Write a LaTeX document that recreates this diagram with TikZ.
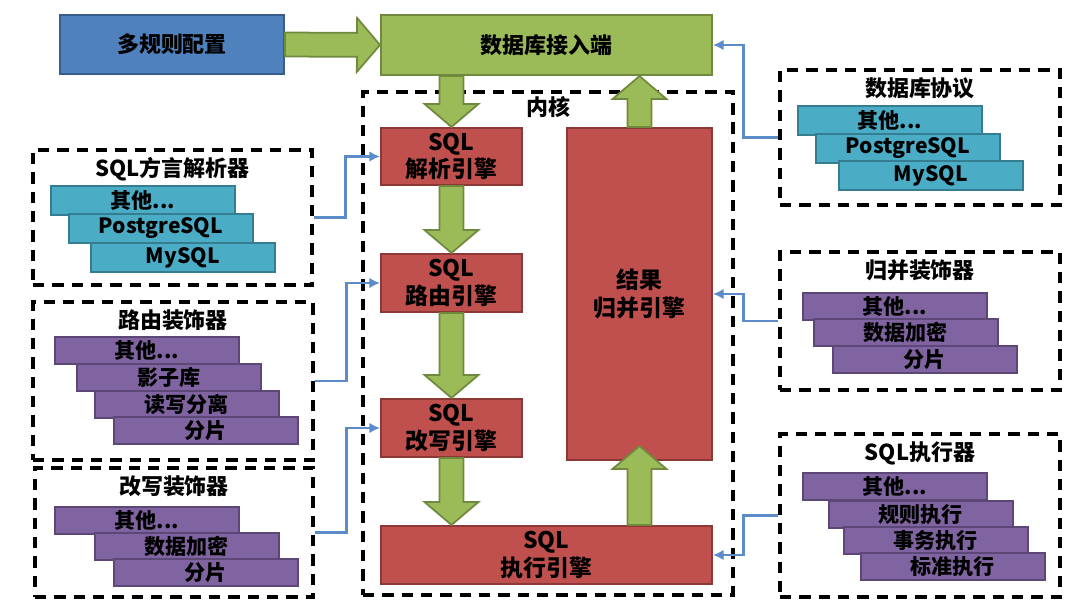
\documentclass[tikz,border=0pt]{standalone}
\usepackage{fontspec}
\setmainfont{Noto Sans CJK SC}
\usetikzlibrary{positioning,calc,arrows.meta}

\definecolor{bluefill}{HTML}{4F81BD}
\definecolor{blueline}{HTML}{385D8A}
\definecolor{greenfill}{HTML}{9BBB59}
\definecolor{greenline}{HTML}{71893F}
\definecolor{redfill}{HTML}{C0504D}
\definecolor{redline}{HTML}{8C3836}
\definecolor{tealfill}{HTML}{4BACC6}
\definecolor{tealline}{HTML}{357D91}
\definecolor{purplefill}{HTML}{8064A2}
\definecolor{purpleline}{HTML}{5C4776}
\definecolor{linkblue}{HTML}{5B8BC9}

\tikzset{
  box/.style={draw, line width=1.2pt, align=center, inner sep=0pt,
    font=\bfseries\fontsize{12.5}{15}\selectfont},
  bluebox/.style={box, fill=bluefill, draw=blueline},
  greenbox/.style={box, fill=greenfill, draw=greenline},
  redbox/.style={box, fill=redfill, draw=redline,
    font=\bfseries\fontsize{13}{15.5}\selectfont},
  group/.style={draw, dashed, line width=1.8pt, dash pattern=on 6.5pt off 4.5pt},
  title/.style={font=\bfseries\fontsize{12.5}{15}\selectfont, inner sep=2pt},
  layer/.style={box, line width=1pt, anchor=north west,
    minimum width=3.68cm, minimum height=0.54cm, font=\bfseries\fontsize{12}{14}\selectfont},
  tealayer/.style={layer, fill=tealfill, draw=tealline, minimum height=0.58cm},
  purplayer/.style={layer, fill=purplefill, draw=purpleline},
  fat/.style={fill=greenfill, draw=greenline, line width=1pt, line join=miter},
  link/.style={draw=linkblue, line width=1.3pt, -{Latex[length=6pt,width=6pt]}}
}

% thick green arrow from #1 to #2
\newcommand{\fatarrow}[2]{%
  \coordinate (fa-s) at (#1);
  \coordinate (fa-e) at (#2);
  \coordinate (fa-b) at ($(fa-e)!0.46cm!(fa-s)$);
  \draw[fat] ($(fa-s)!0.24cm!90:(fa-e)$) -- ($(fa-b)!0.24cm!90:(fa-e)$)
    -- ($(fa-b)!0.54cm!90:(fa-e)$) -- (fa-e) -- ($(fa-b)!0.54cm!-90:(fa-e)$)
    -- ($(fa-b)!0.24cm!-90:(fa-e)$) -- ($(fa-s)!0.24cm!-90:(fa-e)$) -- cycle;
}

\begin{document}
\begin{tikzpicture}[x=0.02cm, y=-0.02cm]
\useasboundingbox (0,0) rectangle (1080,612);

% top row
\node[bluebox, minimum width=4.48cm, minimum height=1.18cm] (rules) at (172,44.5) {多规则配置};
\node[greenbox, minimum width=6.62cm, minimum height=1.2cm] (access) at (546.5,45) {数据库接入端};

% kernel
\node[group, minimum width=7.4cm, minimum height=10.06cm] (kernel) at (548,343.5) {};
\node[title, below=1pt of kernel.north] (kerneltitle) {内核};
\node[redbox, minimum width=2.82cm, minimum height=1.14cm] (parse) at (451.5,156.5) {SQL\\解析引擎};
\node[redbox, minimum width=2.82cm, minimum height=1.16cm] (route) at (451.5,283) {SQL\\路由引擎};
\node[redbox, minimum width=2.82cm, minimum height=1.16cm] (rewrite) at (451.5,428) {SQL\\改写引擎};
\node[redbox, minimum width=6.62cm, minimum height=1.16cm] (exec) at (546.5,555) {SQL\\执行引擎};
\node[redbox, minimum width=2.9cm, minimum height=6.64cm] (merge) at (639.5,294) {结果\\归并引擎};

% left side
\node[group, minimum width=5.58cm, minimum height=2.7cm] (dialect) at (172.5,217.5) {};
\node[title, below=3pt of dialect.north] (dialecttitle) {SQL方言解析器};
\node[tealayer] (d1) at (50,185) {其他...};
\node[tealayer] (d2) at (68,213) {PostgreSQL};
\node[tealayer] (d3) at (90,242) {MySQL};

\node[group, minimum width=5.6cm, minimum height=3.16cm] (routedec) at (173,381) {};
\node[title, below=3pt of routedec.north] (routedectitle) {路由装饰器};
\node[purplayer] (r1) at (54,336) {其他...};
\node[purplayer] (r2) at (76,363) {影子库};
\node[purplayer] (r3) at (94,390) {读写分离};
\node[purplayer] (r4) at (113,416) {分片};

\node[group, minimum width=5.56cm, minimum height=2.58cm] (rewritedec) at (174,532.5) {};
\node[title, below=3pt of rewritedec.north] (rewritedectitle) {改写装饰器};
\node[purplayer] (w1) at (54,506) {其他...};
\node[purplayer] (w2) at (94,532) {数据加密};
\node[purplayer] (w3) at (113,558) {分片};

% right side
\node[group, minimum width=5.6cm, minimum height=2.7cm] (protocol) at (920,137.5) {};
\node[title, below=3pt of protocol.north] (protocoltitle) {数据库协议};
\node[tealayer] (p1) at (797,105) {其他...};
\node[tealayer] (p2) at (815,133) {PostgreSQL};
\node[tealayer] (p3) at (838,160) {MySQL};

\node[group, minimum width=5.6cm, minimum height=2.76cm] (mergedec) at (920,321) {};
\node[title, below=3pt of mergedec.north] (mergedectitle) {归并装饰器};
\node[purplayer] (m1) at (802,292) {其他...};
\node[purplayer] (m2) at (813,318) {数据加密};
\node[purplayer] (m3) at (832,345) {分片};

\node[group, minimum width=5.6cm, minimum height=3.26cm] (execdec) at (920,515.5) {};
\node[title, below=3pt of execdec.north] (execdectitle) {SQL执行器};
\node[purplayer] (e1) at (802,472) {其他...};
\node[purplayer] (e2) at (828,500) {规则执行};
\node[purplayer] (e3) at (843,526) {事务执行};
\node[purplayer] (e4) at (860,552) {标准执行};

% green flow
\fatarrow{rules.east}{access.west}
\fatarrow{access.south -| parse}{parse.north}
\fatarrow{parse.south}{route.north}
\fatarrow{route.south}{rewrite.north}
\fatarrow{rewrite.south}{exec.north -| rewrite}
\fatarrow{exec.north -| merge}{$(merge.south)+(0,0.3cm)$}
\fatarrow{merge.north}{access.south -| merge}

% plug-ins
\draw[link] (dialect.east) -- ++(32,0) |- (parse.west);
\draw[link] (routedec.east) -- ++(32,0) |- (route.west);
\draw[link] (rewritedec.east) -- ++(32,0) |- (rewrite.west);
\draw[link] (protocol.west) -- ++(-35,0) |- (access.east);
\draw[link] (mergedec.west) -- ++(-35,0) |- (merge.east);
\draw[link] (execdec.west) -- ++(-35,0) |- (exec.east);
\end{tikzpicture}
\end{document}
